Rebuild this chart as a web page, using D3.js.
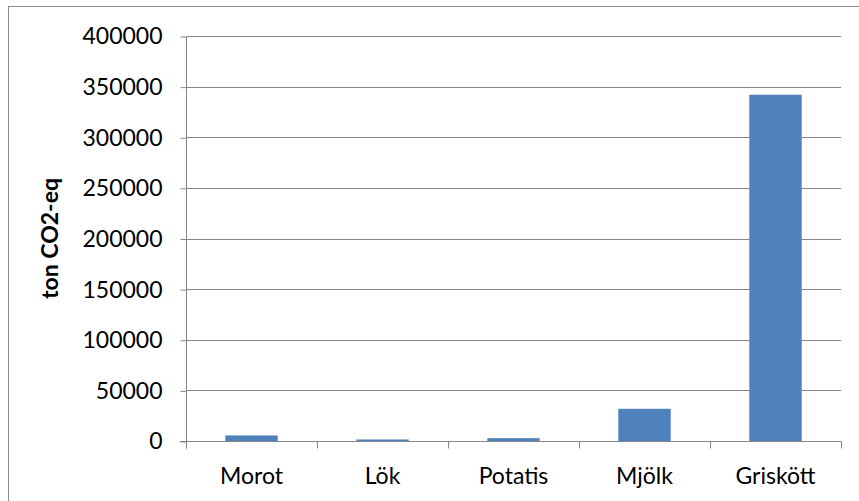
<!DOCTYPE html>
<html>
<head>
<meta charset="utf-8">
<script src="https://cdn.jsdelivr.net/npm/d3@7"></script>
<style>
  html, body { margin: 0; padding: 0; background: #fff; }
  svg { display: block; }
  text { font-family: Lato, "Liberation Sans", sans-serif; fill: #000; }
</style>
</head>
<body>
<svg id="chart" width="859" height="501"></svg>
<script>
// Emissions per product (ton CO2-eq)
const categories = ["Morot", "Lök", "Potatis", "Mjölk", "Griskött"];
const values = [5500, 1500, 2800, 31800, 342000];
const yTicks = [0, 50000, 100000, 150000, 200000, 250000, 300000, 350000, 400000];
const yTitle = "ton CO2-eq";

const svg = d3.select("#chart");
const W = 859, H = 501;
const plot = { left: 186, right: 841, top: 36, bottom: 441 };
const gridColor = "#868686";
const fontSize = 23;

// chart frame
svg.append("rect")
  .attr("x", 8.5).attr("y", 6.5)
  .attr("width", W + 10).attr("height", H + 10)
  .attr("fill", "none").attr("stroke", "#8c8c8c").attr("stroke-width", 1);

const x = d3.scaleBand().domain(categories).range([plot.left, plot.right]).paddingInner(0).paddingOuter(0);
const y = d3.scaleLinear().domain([0, 400000]).range([plot.bottom, plot.top]);

// horizontal gridlines
svg.append("g").selectAll("line").data(yTicks.filter(d => d > 0)).join("line")
  .attr("x1", plot.left).attr("x2", plot.right)
  .attr("y1", d => Math.round(y(d)) + 0.5).attr("y2", d => Math.round(y(d)) + 0.5)
  .attr("stroke", gridColor).attr("stroke-width", 1);

// bars
const barW = x.bandwidth() / 2.5;
svg.append("g").selectAll("rect").data(values).join("rect")
  .attr("x", (d, i) => x(categories[i]) + (x.bandwidth() - barW) / 2)
  .attr("width", barW)
  .attr("y", d => y(d))
  .attr("height", d => y(0) - y(d))
  .attr("fill", "#4f81bd");

// y axis
const yAxis = d3.axisLeft(y).tickValues(yTicks).tickSize(6).tickPadding(18).tickFormat(d3.format("d"));
const gy = svg.append("g").attr("transform", `translate(${plot.left + 0.5},0.5)`).call(yAxis);
gy.select(".domain").attr("stroke", gridColor).attr("d", `M0,${plot.top}V${plot.bottom + 7}`);
gy.selectAll(".tick line").attr("stroke", gridColor);
gy.selectAll(".tick text").attr("font-size", fontSize).attr("font-family", "Lato, sans-serif");

// x axis with ticks at category boundaries
const gx = svg.append("g").attr("transform", `translate(0,${plot.bottom + 0.5})`);
gx.append("line").attr("x1", plot.left - 6).attr("x2", plot.right + 0.5)
  .attr("stroke", gridColor);
const bounds = categories.map(c => x(c)).concat([plot.right]);
gx.selectAll("line.b").data(bounds).join("line").attr("class", "b")
  .attr("x1", d => Math.round(d) + 0.5).attr("x2", d => Math.round(d) + 0.5)
  .attr("y1", 0).attr("y2", 7).attr("stroke", gridColor);
gx.selectAll("text").data(categories).join("text")
  .attr("x", d => x(d) + x.bandwidth() / 2)
  .attr("y", 42)
  .attr("text-anchor", "middle")
  .attr("font-size", fontSize)
  .text(d => d);

// y axis title
svg.append("text")
  .attr("transform", `translate(58,${(plot.top + plot.bottom) / 2}) rotate(-90)`)
  .attr("text-anchor", "middle")
  .attr("font-size", fontSize).attr("font-weight", "bold")
  .text(yTitle);
</script>
</body>
</html>
